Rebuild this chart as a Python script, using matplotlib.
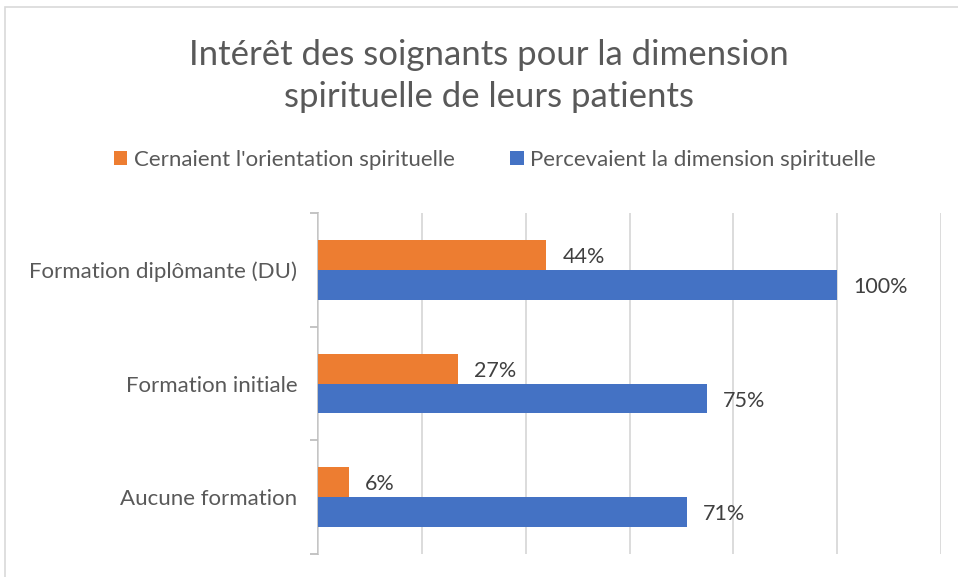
import matplotlib
matplotlib.use("Agg")
import matplotlib.pyplot as plt
from matplotlib.patches import Rectangle

categories = ["Aucune formation", "Formation initiale", "Formation diplômante (DU)"]
cernaient = [6, 27, 44]
percevaient = [71, 75, 100]
series_names = ["Cernaient l'orientation spirituelle", "Percevaient la dimension spirituelle"]
title = "Intérêt des soignants pour la dimension\nspirituelle de leurs patients"

ORANGE = "#ED7D31"
BLUE = "#4472C4"
FONT = ["Lato", "DejaVu Sans"]
plt.rcParams['font.family'] = FONT

W, H = 958, 577
fig = plt.figure(figsize=(W / 100, H / 100), dpi=100)

# chart border
fig.patches.append(Rectangle((5 / W, -0.05), 1.1, (577 - 7) / H + 0.05, transform=fig.transFigure,
                             fill=False, edgecolor="#D9D9D9", linewidth=1.2))

left, right, top, bottom = 318, 941, 213, 554
ax = fig.add_axes([left / W, (H - bottom) / H, (right - left) / W, (bottom - top) / H])

y = list(range(len(categories)))
bh = 0.263
ax.barh([v + bh / 2 for v in y], cernaient, height=bh, color=ORANGE, label=series_names[0], zorder=3)
ax.barh([v - bh / 2 for v in y], percevaient, height=bh, color=BLUE, label=series_names[1], zorder=3)

for v, val in zip(y, cernaient):
    ax.annotate(f"{val}%", (val, v + bh / 2), xytext=(11.5, -1.5), textcoords="offset points",
                va="center", ha="left", fontsize=15.5, color="#404040")
for v, val in zip(y, percevaient):
    ax.annotate(f"{val}%", (val, v - bh / 2), xytext=(11.5, -1.5), textcoords="offset points",
                va="center", ha="left", fontsize=15.5, color="#404040")

ax.set_xlim(0, 120)
ax.set_ylim(-0.5, len(categories) - 0.5)
ax.set_xticks([0, 20, 40, 60, 80, 100, 120])
ax.set_xticklabels([])
ax.tick_params(axis="x", length=0)
ax.grid(axis="x", color="#D9D9D9", linewidth=1.3, zorder=0)
ax.set_yticks(y)
ax.set_yticklabels(categories, fontsize=16, color="#595959")
ax.set_yticks([-0.5, 0.5, 1.5, 2.5], minor=True)
ax.tick_params(axis="y", which="major", length=0, pad=15)
ax.tick_params(axis="y", which="minor", length=6, color="#BFBFBF", width=1.3)
for s in ["top", "right", "bottom"]:
    ax.spines[s].set_visible(False)
ax.spines["left"].set_color("#BFBFBF")
ax.spines["left"].set_linewidth(1.3)
ax.spines["left"].set_zorder(1)

fig.text(489 / W, (H - 76) / H, title, ha="center", va="center", fontsize=25, color="#595959",
         linespacing=1.42)

handles, labels = ax.get_legend_handles_labels()
fig.legend(handles, labels, loc="center", bbox_to_anchor=(495 / W, (H - 160) / H), ncol=2,
           frameon=False, fontsize=16, labelcolor="#595959", handlelength=0.6, handleheight=0.6,
           handletextpad=0.3, columnspacing=2.5)

fig.savefig("out.png", dpi=100)
